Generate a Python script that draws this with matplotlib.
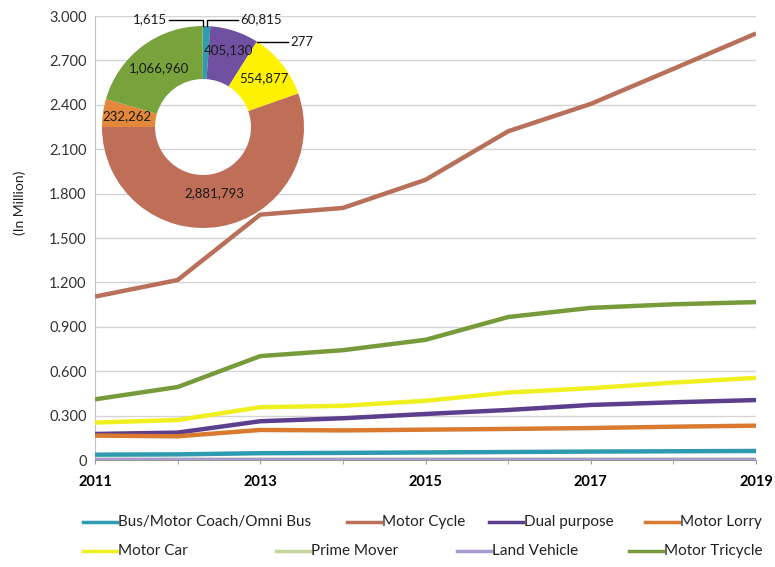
import numpy as np
import matplotlib.pyplot as plt
from matplotlib.lines import Line2D
from matplotlib.ticker import FuncFormatter

plt.rcParams['font.family'] = ['Lato', 'DejaVu Sans']

# Values (in million)
years = [2011, 2012, 2013, 2014, 2015, 2016, 2017, 2018, 2019]
bus = [0.036, 0.038, 0.046, 0.048, 0.051, 0.054, 0.057, 0.059, 0.061]
motor_cycle = [1.104, 1.216, 1.658, 1.703, 1.893, 2.221, 2.406, 2.643, 2.882]
dual_purpose = [0.176, 0.185, 0.262, 0.282, 0.311, 0.338, 0.372, 0.390, 0.405]
motor_lorry = [0.165, 0.160, 0.203, 0.200, 0.205, 0.210, 0.216, 0.225, 0.232]
motor_car = [0.253, 0.270, 0.357, 0.366, 0.400, 0.456, 0.485, 0.523, 0.555]
prime_mover = [0.0011, 0.0012, 0.0013, 0.0013, 0.0014, 0.0014, 0.0015, 0.0015, 0.0016]
land_vehicle = [0.0003, 0.0003, 0.0003, 0.0003, 0.0003, 0.0003, 0.0003, 0.0003, 0.0003]
motor_tricycle = [0.410, 0.493, 0.702, 0.742, 0.812, 0.966, 1.028, 1.052, 1.067]

series_names = ["Bus/Motor Coach/Omni Bus", "Motor Cycle", "Dual purpose", "Motor Lorry",
                "Motor Car", "Prime Mover", "Land Vehicle", "Motor Tricycle"]
series_values = [bus, motor_cycle, dual_purpose, motor_lorry,
                 motor_car, prime_mover, land_vehicle, motor_tricycle]
line_colors = ["#2E9BB0", "#B9705A", "#5B3E8C", "#D97A30",
               "#F0F020", "#C3D69B", "#A99BD0", "#779B3B"]

# Doughnut (2019 totals), alphabetical order as in the source
pie_names = ["Bus/Motor Coach/Omni Bus", "Dual purpose", "Land Vehicle", "Motor Car",
             "Motor Cycle", "Motor Lorry", "Motor Tricycle", "Prime Mover"]
pie_values = [60815, 405130, 277, 554877, 2881793, 232262, 1066960, 1615]
pie_colors = ["#2E9BB0", "#7050A0", "#A99BD0", "#FFF200",
              "#BF6E58", "#E3873A", "#77A23C", "#C3D69B"]

W, H = 775, 567
fig = plt.figure(figsize=(W / 100, H / 100), dpi=100)

# main line chart
ax = fig.add_axes([95 / W, 1 - 460 / H, (756 - 95) / W, (460 - 16) / H])
for name, vals, c in zip(series_names, series_values, line_colors):
    ax.plot(years, vals, color=c, lw=3.2, solid_capstyle='butt', label=name, zorder=3)

ax.set_xlim(2011, 2019)
ax.set_ylim(0, 3.0)
ax.set_yticks(np.arange(0, 3.01, 0.3))
ax.yaxis.set_major_formatter(FuncFormatter(lambda v, p: "0" if abs(v) < 1e-9 else f"{v:.3f}"))
ax.set_xticks([2011, 2013, 2015, 2017, 2019])
ax.set_xticks(years, minor=True)
ax.grid(axis='y', color='#D4D4D4', lw=1.0, zorder=0)
ax.tick_params(axis='y', length=0, labelsize=10.5, labelcolor='#333333', pad=6)
ax.tick_params(axis='x', which='both', length=3, color='#999999', labelsize=10.5, pad=8)
for lab in ax.get_xticklabels():
    lab.set_fontweight('bold')
for s in ['top', 'right']:
    ax.spines[s].set_visible(False)
ax.spines['left'].set_color('#B8C4D0')
ax.spines['bottom'].set_color('#999999')
ax.set_ylabel("(In Million)", fontsize=10, color='#222222')
ax.yaxis.set_label_coords(-0.105, 0.58)

# doughnut inset
pax = fig.add_axes([102 / W, 1 - 228 / H, 202 / W, 202 / H])
wedges, _ = pax.pie(pie_values, colors=pie_colors, startangle=90, counterclock=False,
                    radius=1.0, wedgeprops=dict(width=0.525, linewidth=0))
pax.set_xlim(-1, 1)
pax.set_ylim(-1, 1)
pax.axis('off')

label_r = {"Dual purpose": 0.80, "Motor Car": 0.77, "Motor Cycle": 0.66,
           "Motor Lorry": 0.76, "Motor Tricycle": 0.73}
for w, name, v in zip(wedges, pie_names, pie_values):
    mid = np.deg2rad((w.theta1 + w.theta2) / 2)
    if name in label_r:
        r = label_r[name]
        pax.text(r * np.cos(mid), r * np.sin(mid), f"{v:,}", ha='center', va='center',
                 fontsize=9.5, color='#1A1A1A')


def edge(i):
    w = wedges[i]
    a = np.deg2rad((w.theta1 + w.theta2) / 2)
    return np.cos(a), np.sin(a)


# small slices with leader lines
ly_top = 1.06
bx, by = edge(0)        # Bus
pax.plot([bx, bx, bx + 0.31], [by, ly_top, ly_top], color='black', lw=1, clip_on=False)
pax.text(bx + 0.33, ly_top + 0.01, f"{pie_values[0]:,}", ha='left', va='center',
         fontsize=9.5, color='#1A1A1A')

px_, py_ = edge(7)      # Prime Mover
pax.plot([px_, px_, px_ - 0.34], [py_, ly_top, ly_top], color='black', lw=1, clip_on=False)
pax.text(px_ - 0.36, ly_top + 0.01, f"{pie_values[7]:,}", ha='right', va='center',
         fontsize=9.5, color='#1A1A1A')

lx, ly = edge(2)        # Land Vehicle
pax.plot([lx, lx + 0.31], [ly, ly], color='black', lw=1, clip_on=False)
pax.text(lx + 0.33, ly, f"{pie_values[2]:,}", ha='left', va='center',
         fontsize=9.5, color='#1A1A1A')

# legend laid out like the source (two rows)
legend_rows = [(522, [83, 347, 489, 645]), (551, [83, 276, 457, 629])]
k = 0
for ypix, xs in legend_rows:
    for x0 in xs:
        yf = 1 - ypix / H
        fig.add_artist(Line2D([x0 / W, (x0 + 34) / W], [yf, yf], color=line_colors[k],
                              lw=2.5, transform=fig.transFigure))
        fig.text((x0 + 35) / W, yf, series_names[k], fontsize=11, color='#222222',
                 ha='left', va='center')
        k += 1

fig.savefig("out.png", dpi=100)
